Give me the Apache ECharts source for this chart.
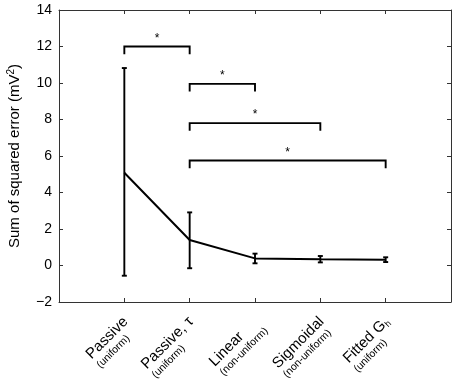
<!DOCTYPE html>
<html>
<head>
<meta charset="utf-8">
<script src="https://cdn.jsdelivr.net/npm/echarts@6/dist/echarts.min.js"></script>
<style>
  html, body { margin: 0; padding: 0; background: #fff; }
  #main { width: 454px; height: 381px; }
</style>
</head>
<body>
<div id="main"></div>
<script>
// model names and the small second line under each one
var categories = ['Passive', 'Passive, τ', 'Linear', 'Sigmoidal', 'Fitted G'];
var subLabels = ['(uniform)', '(uniform)', '(non-uniform)', '(non-uniform)', '(uniform)'];
// mean sum of squared error and error bar ends (mV^2)
var means = [5.08, 1.40, 0.39, 0.34, 0.32];
var lower = [-0.56, -0.15, 0.12, 0.17, 0.19];
var upper = [10.82, 2.91, 0.65, 0.52, 0.45];
// significance brackets: from / to (category number, 1-based) and height
var bracketFrom = [1, 2, 2, 2];
var bracketTo = [2, 3, 4, 5];
var bracketY = [12.0, 9.95, 7.8, 5.75];
var yTicks = [-2, 0, 2, 4, 6, 8, 10, 12, 14];

var font = 'Liberation Sans, Arial, Helvetica, sans-serif';
var axisData = [''].concat(categories).concat(['']);

var myChart = echarts.init(document.getElementById('main'));

function errorBars(params, api) {
    var x = api.value(0);
    var lo = api.coord([x, api.value(1)]);
    var hi = api.coord([x, api.value(2)]);
    var cap = 2.5;
    var st = { stroke: '#000', lineWidth: 1.9 };
    return {
        type: 'group',
        children: [
            { type: 'line', shape: { x1: lo[0], y1: lo[1], x2: hi[0], y2: hi[1] }, style: st },
            { type: 'line', shape: { x1: lo[0] - cap, y1: lo[1], x2: lo[0] + cap, y2: lo[1] }, style: st },
            { type: 'line', shape: { x1: hi[0] - cap, y1: hi[1], x2: hi[0] + cap, y2: hi[1] }, style: st }
        ]
    };
}

function brackets(params, api) {
    var a = api.value(0), b = api.value(1), y = api.value(2);
    var drop = 0.42;
    var p1 = api.coord([a, y - drop]);
    var p2 = api.coord([a, y]);
    var p3 = api.coord([b, y]);
    var p4 = api.coord([b, y - drop]);
    return {
        type: 'group',
        children: [
            {
                type: 'polyline',
                shape: { points: [p1, p2, p3, p4] },
                style: { stroke: '#000', lineWidth: 1.9, fill: null }
            },
            {
                type: 'text',
                x: (p2[0] + p3[0]) / 2,
                y: p2[1] - 2,
                style: {
                    text: '*', fill: '#000', font: '12px ' + font,
                    textAlign: 'center', textVerticalAlign: 'bottom'
                }
            }
        ]
    };
}

var lineData = [], barData = [], bracketData = [];
for (var i = 0; i < categories.length; i++) {
    lineData.push([i + 1, means[i]]);
    barData.push([i + 1, lower[i], upper[i]]);
}
for (var j = 0; j < bracketY.length; j++) {
    bracketData.push([bracketFrom[j], bracketTo[j], bracketY[j]]);
}

var axisLineStyle = { color: '#333', width: 1 };
var tickStyle = { show: true, inside: true, length: 4, lineStyle: axisLineStyle };

option = {
    animation: false,
    backgroundColor: '#fff',
    grid: { left: 59, right: 3, top: 10, bottom: 79, containLabel: false, outerBoundsMode: 'none' },
    xAxis: [{
        type: 'category',
        data: axisData,
        boundaryGap: false,
        axisLine: { onZero: false, lineStyle: axisLineStyle },
        axisTick: { show: true, inside: true, length: 4, interval: 0, lineStyle: axisLineStyle },
        axisLabel: {
            interval: 0,
            rotate: 45,
            margin: 16,
            padding: [16, 0, 0, 0],
            color: '#000',
            fontFamily: font,
            formatter: function (v, idx) {
                if (idx < 1 || idx > categories.length) return '';
                var k = idx - 1;
                var main = '{a|' + categories[k] + '}';
                if (k === 4) main += '{s|h}';
                return main + '\n{b|' + subLabels[k] + '}';
            },
            rich: {
                a: { fontSize: 15, fontFamily: font, color: '#000', align: 'left', lineHeight: 16 },
                s: { fontSize: 9, fontFamily: font, color: '#000', align: 'left', padding: [8, 0, 0, 0], lineHeight: 16 },
                b: { fontSize: 10.5, fontFamily: font, color: '#000', align: 'left', lineHeight: 12 }
            }
        },
        splitLine: { show: false }
    }, {
        type: 'category',
        position: 'top',
        data: axisData,
        boundaryGap: false,
        axisLine: { onZero: false, lineStyle: axisLineStyle },
        axisTick: { show: true, inside: true, length: 4, interval: 0, lineStyle: axisLineStyle },
        axisLabel: { show: false },
        splitLine: { show: false }
    }],
    yAxis: [{
        type: 'value',
        min: yTicks[0],
        max: yTicks[yTicks.length - 1],
        interval: 2,
        name: '{n|Sum of squared error (mV}{sup|2}{n|)}',
        nameLocation: 'middle',
        nameGap: 35,
        nameTextStyle: {
            fontSize: 15, fontFamily: font, color: '#000',
            rich: {
                n: { fontSize: 15, fontFamily: font, color: '#000', lineHeight: 18 },
                sup: { fontSize: 10, fontFamily: font, color: '#000', padding: [0, 0, 8, 0], lineHeight: 18 }
            }
        },
        axisLine: { show: true, onZero: false, lineStyle: axisLineStyle },
        axisTick: tickStyle,
        axisLabel: {
            color: '#000', fontSize: 14, fontFamily: font, margin: 7,
            formatter: function (v) { return v < 0 ? '\u2212' + Math.abs(v) : String(v); }
        },
        splitLine: { show: false }
    }, {
        type: 'value',
        position: 'right',
        min: yTicks[0],
        max: yTicks[yTicks.length - 1],
        interval: 2,
        axisLine: { show: true, onZero: false, lineStyle: axisLineStyle },
        axisTick: tickStyle,
        axisLabel: { show: false },
        splitLine: { show: false }
    }],
    series: [{
        type: 'line',
        data: lineData,
        symbol: 'none',
        lineStyle: { color: '#000', width: 2 },
        z: 3
    }, {
        type: 'custom',
        data: barData,
        renderItem: errorBars,
        z: 4
    }, {
        type: 'custom',
        data: bracketData,
        renderItem: brackets,
        z: 4
    }]
};
myChart.setOption(option, true);

window.onresize = function () {
    myChart.resize();
}
</script>
</body>
</html>
